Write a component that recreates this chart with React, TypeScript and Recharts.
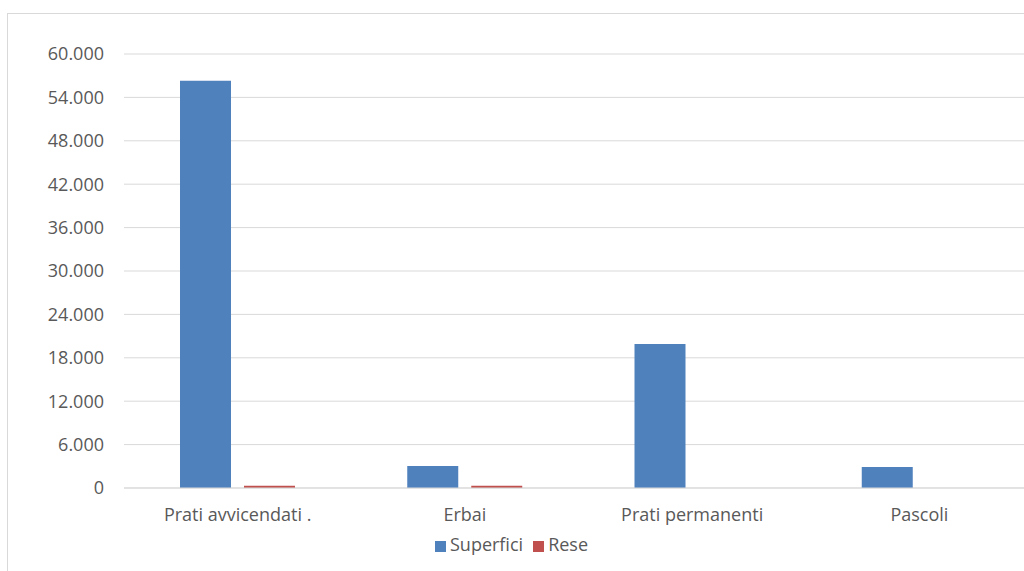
import { BarChart, Bar, XAxis, YAxis, CartesianGrid, Legend } from "recharts";

const categories = ["Prati avvicendati .", "Erbai", "Prati permanenti", "Pascoli"];
const superfici = [56300, 3050, 19900, 2900];
const rese = [300, 300, 0, 0];
const yTicks = [0, 6000, 12000, 18000, 24000, 30000, 36000, 42000, 48000, 54000, 60000];

const data = categories.map((name, i) => ({
  name,
  Superfici: superfici[i],
  Rese: rese[i],
}));

const fmt = (v: number) => String(v).replace(/\B(?=(\d{3})+(?!\d))/g, ".");

const font = "'Open Sans', 'Noto Sans', sans-serif";
const textColor = "#595959";

export default function App() {
  return (
    <div
      style={{
        position: "absolute",
        left: 0,
        top: 0,
        width: 1024,
        height: 571,
        overflow: "hidden",
        background: "#fff",
        fontFamily: font,
      }}
    >
      <div
        style={{
          position: "absolute",
          left: 7,
          top: 13,
          width: 1100,
          height: 700,
          border: "1px solid #d9d9d9",
        }}
      />
      <div style={{ position: "absolute", left: 0, top: 0 }}>
        <BarChart
          width={1040}
          height={585}
          data={data}
          margin={{ top: 54, right: 7, left: 0, bottom: 0 }}
          barGap={13}
          barSize={51}
        >
          <CartesianGrid vertical={false} stroke="#d9d9d9" strokeWidth={1} />
          <XAxis
            dataKey="name"
            height={30}
            tickLine={false}
            axisLine={{ stroke: "#d9d9d9" }}
            tickMargin={14}
            tick={{ fill: textColor, fontSize: 18, fontFamily: font }}
            interval={0}
          />
          <YAxis
            width={124}
            domain={[0, 60000]}
            ticks={yTicks}
            tickFormatter={fmt}
            axisLine={false}
            tickLine={false}
            tickSize={0}
            tickMargin={20}
            tick={{ fill: textColor, fontSize: 18, fontFamily: font }}
          />
          <Legend
            verticalAlign="bottom"
            height={53}
            iconType="square"
            iconSize={11}
            itemSorter={null}
            wrapperStyle={{ paddingTop: 14, fontSize: 18, fontFamily: font }}
            formatter={(value: string) => (
              <span style={{ color: textColor }}>{value}</span>
            )}
          />
          <Bar dataKey="Superfici" fill="#4f81bd" isAnimationActive={false} />
          <Bar dataKey="Rese" fill="#c0504d" isAnimationActive={false} />
        </BarChart>
      </div>
    </div>
  );
}
